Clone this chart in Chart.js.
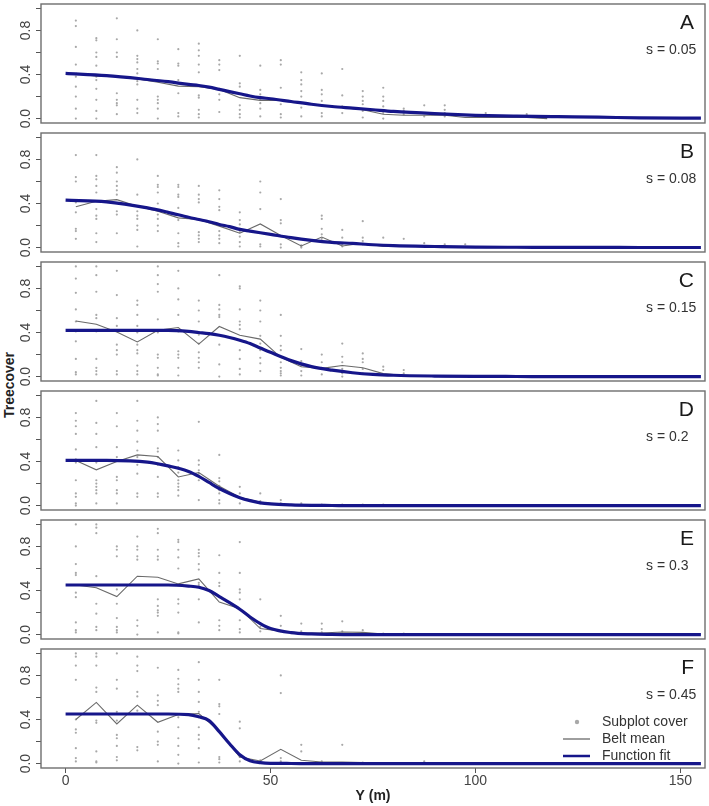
<!DOCTYPE html>
<html>
<head>
<meta charset="utf-8">
<script src="https://cdn.jsdelivr.net/npm/chart.js@4.4.1/dist/chart.umd.min.js"></script>
<style>
  body{margin:0;background:#fff;width:709px;height:806px;position:relative;overflow:hidden;font-family:"Liberation Sans",Arial,sans-serif}
  canvas{position:absolute;left:0}
  #ylab{position:absolute;left:9px;top:385px;transform:translate(-50%,-50%) rotate(-90deg);font-weight:bold;font-size:14px;color:#222;white-space:nowrap}
</style>
</head>
<body>
<div id="ylab">Treecover</div>
<script>
// belt centres (m)
const colX = [2.5,7.5,12.5,17.5,22.5,27.5,32.5,37.5,42.5,47.5,52.5,57.5,62.5,67.5,72.5,77.5,82.5,87.5,92.5,97.5,102.5,107.5,112.5,117.5];
const fitX = [0,10,20,25,30,32.5,35,37.5,40,42.5,45,47.5,50,55,60,65,70,75,80,90,100,110,120,130,140,155];

const xTicks = [0,50,100,150];
const yTicks = [0,0.2,0.4,0.6,0.8,1.0];
const yLabelValues = [0,0.4,0.8];
const yLabelText = ['0.0','0.4','0.8'];

const panelLetters = ['A','B','C','D','E','F'];
const sLabels = ['s = 0.05','s = 0.08','s = 0.15','s = 0.2','s = 0.3','s = 0.45'];
const legendLabels = ['Subplot cover','Belt mean','Function fit'];

// subplot cover, one list per belt
const coverA = [
  [0.89,0.84,0.65,0.49,0.38,0.29,0.20,0.09,0.00],
  [0.73,0.71,0.60,0.56,0.48,0.38,0.35,0.27,0.17,0.07,0.00],
  [0.91,0.72,0.60,0.56,0.23,0.17,0.14,0.12,0.04],
  [0.80,0.57,0.54,0.51,0.45,0.41,0.34,0.31,0.17,0.09,0.05],
  [0.72,0.52,0.50,0.45,0.20,0.17,0.14,0.09,0.00],
  [0.63,0.50,0.48,0.35,0.32,0.23,0.05,0.02],
  [0.68,0.62,0.57,0.49,0.42,0.21,0.19,0.08,0.04,0.01],
  [0.53,0.49,0.44,0.27,0.22,0.17,0.06],
  [0.57,0.32,0.29,0.12,0.08,0.04,0.01],
  [0.48,0.26,0.22,0.17,0.14,0.09,0.02],
  [0.53,0.49,0.28,0.13,0.04,0.01],
  [0.42,0.35,0.31,0.25,0.20,0.14,0.10,0.02],
  [0.41,0.26,0.22,0.16,0.05,0.02],
  [0.45,0.21,0.11,0.05],
  [0.25,0.20,0.16,0.13,0.07,0.01],
  [0.28,0.20,0.16,0.11,0.05,0.00],
  [0.09,0.07,0.04],
  [0.12,0.02],
  [0.12,0.08,0.05,0.02],
  [],
  [0.05],
  [],
  [0.04]
];
const coverB = [
  [0.84,0.64,0.60,0.41,0.32,0.17,0.15,0.08],
  [0.84,0.65,0.62,0.56,0.50,0.35,0.29,0.26,0.13,0.05],
  [0.73,0.68,0.60,0.56,0.52,0.48,0.33,0.30,0.13],
  [0.80,0.48,0.33,0.29,0.26,0.20,0.16,0.01],
  [0.65,0.57,0.55,0.50,0.40,0.30,0.26,0.20,0.15],
  [0.57,0.55,0.48,0.46,0.36,0.25,0.13,0.04,0.01],
  [0.56,0.48,0.44,0.41,0.14,0.11,0.08,0.05],
  [0.52,0.44,0.37,0.34,0.21,0.15,0.11,0.08,0.04],
  [0.32,0.25,0.21,0.17,0.14,0.10,0.05,0.01],
  [0.60,0.50,0.35,0.03,0.01],
  [0.44,0.25,0.22,0.03,0.00],
  [0.02,0.01,0.00],
  [0.29,0.26,0.17,0.12,0.08],
  [0.16,0.09,0.03,0.01],
  [0.24,0.09,0.06,0.03],
  [0.09,0.02],
  [0.08],
  [0.04],
  [0.03],
  [0.03]
];
const coverC = [
  [1.00,0.89,0.76,0.61,0.50,0.41,0.32,0.16,0.04,0.02],
  [1.00,0.92,0.77,0.56,0.53,0.41,0.16,0.08,0.05,0.02],
  [0.96,0.74,0.53,0.46,0.29,0.24,0.20,0.05,0.02],
  [0.69,0.65,0.56,0.46,0.40,0.29,0.24,0.21,0.10,0.05,0.02],
  [1.00,0.92,0.84,0.77,0.52,0.40,0.20,0.17,0.08,0.02,0.01],
  [0.96,0.80,0.70,0.56,0.41,0.23,0.20,0.17,0.08,0.01],
  [0.69,0.60,0.50,0.38,0.30,0.22,0.17,0.13,0.08],
  [0.92,0.65,0.61,0.56,0.54,0.29,0.11,0.00],
  [0.82,0.80,0.61,0.50,0.47,0.43,0.33,0.24,0.16,0.07,0.02],
  [0.69,0.60,0.50,0.37,0.30,0.24,0.17,0.12,0.05],
  [0.56,0.37,0.28,0.24,0.13,0.08,0.05,0.03,0.01],
  [0.25,0.14,0.10,0.05,0.01],
  [0.20,0.13,0.08,0.02],
  [0.30,0.18,0.13,0.07,0.03,0.00],
  [0.21,0.16,0.13,0.07,0.03],
  [0.09,0.06],
  [0.06,0.03]
];
const coverD = [
  [0.84,0.77,0.72,0.65,0.51,0.42,0.39,0.23,0.11,0.08,0.02,0.00],
  [0.95,0.75,0.65,0.53,0.39,0.23,0.20,0.17,0.14,0.11,0.02],
  [0.84,0.72,0.53,0.44,0.26,0.23,0.14,0.11,0.02],
  [0.95,0.77,0.68,0.58,0.50,0.44,0.37,0.29,0.11,0.08],
  [0.80,0.74,0.68,0.52,0.49,0.44,0.37,0.26,0.11,0.08],
  [0.50,0.41,0.35,0.30,0.23,0.20,0.17,0.14,0.09],
  [0.76,0.41,0.37,0.32,0.29,0.23,0.05],
  [0.46,0.25,0.22,0.18,0.14,0.11,0.05,0.02],
  [0.17,0.11,0.07,0.02],
  [0.11,0.04,0.02],
  [0.05,0.02],
  [0.02],
  [0.01],
  [0.01],
  [0.01],
  [0.01]
];
const coverE = [
  [1.00,0.80,0.64,0.56,0.54,0.38,0.34,0.11,0.04,0.02],
  [1.00,0.97,0.92,0.53,0.28,0.19,0.07,0.04],
  [0.80,0.77,0.71,0.41,0.28,0.15,0.07,0.04,0.02],
  [0.89,0.80,0.77,0.71,0.68,0.13,0.08,0.00],
  [0.96,0.92,0.77,0.71,0.68,0.32,0.26,0.22,0.20,0.17,0.02],
  [0.86,0.84,0.77,0.70,0.60,0.32,0.28,0.20,0.02,0.01],
  [0.77,0.74,0.71,0.64,0.59,0.47,0.45,0.32,0.11],
  [0.72,0.56,0.47,0.44,0.13,0.08,0.04],
  [0.84,0.56,0.41,0.38,0.32,0.13,0.05,0.02],
  [0.32,0.10,0.07,0.03],
  [0.17,0.08,0.03],
  [0.10,0.03],
  [0.10,0.05,0.02],
  [0.12,0.03],
  [0.04],
  [0.01],
  [0.01]
];
const coverF = [
  [1.00,0.97,0.89,0.76,0.40,0.31,0.28,0.14,0.05,0.02],
  [1.00,0.97,0.89,0.69,0.65,0.39,0.37,0.11,0.02,0.01],
  [1.00,0.76,0.68,0.47,0.39,0.26,0.23,0.16,0.06,0.03],
  [0.97,0.89,0.84,0.65,0.61,0.48,0.15,0.12],
  [0.87,0.62,0.57,0.53,0.29,0.20,0.17,0.02],
  [0.85,0.77,0.72,0.68,0.65,0.42,0.33,0.23,0.16,0.08,0.00],
  [0.92,0.76,0.65,0.56,0.47,0.42,0.33,0.26,0.22,0.14,0.01],
  [0.76,0.54,0.52,0.45,0.06,0.04,0.01],
  [0.38,0.32,0.06,0.02],
  [0.03],
  [0.80,0.64,0.05,0.02],
  [0.17,0.11],
  [0.02],
  [0.17],
  [0.01],
  [],
  [],
  [0.02]
];

// belt means
const beltA = [0.41,0.385,0.38,0.36,0.33,0.295,0.29,0.265,0.19,0.165,0.165,0.14,0.12,0.10,0.08,0.04,0.03,0.03,0.03,0.01,0.01,0.01,0.01,0.0];
const beltB = [0.37,0.42,0.435,0.375,0.33,0.27,0.255,0.195,0.13,0.215,0.11,0.015,0.096,0.015,0.04,0.01,0.01,0.01,0.005,0.005,0,0,0,0];
const beltC = [0.505,0.475,0.405,0.315,0.42,0.445,0.295,0.455,0.375,0.34,0.175,0.09,0.075,0.10,0.08,0.027,0.01,0.005,0,0,0,0,0,0];
const beltD = [0.41,0.325,0.40,0.46,0.445,0.26,0.30,0.175,0.075,0.03,0.01,0.005,0,0,0,0,0,0,0,0,0,0,0,0];
const beltE = [0.45,0.425,0.345,0.53,0.52,0.46,0.505,0.295,0.235,0.055,0.03,0.015,0.015,0.024,0.02,0.005,0,0,0,0,0,0,0,0];
const beltF = [0.40,0.555,0.36,0.53,0.375,0.445,0.455,0.295,0.06,0.024,0.13,0.03,0.015,0.015,0.01,0.005,0,0,0,0,0,0,0,0];

// fitted curves, read at fitX
const fitA = [0.41,0.39,0.355,0.335,0.31,0.30,0.285,0.265,0.245,0.225,0.205,0.19,0.18,0.155,0.13,0.11,0.095,0.08,0.065,0.045,0.03,0.022,0.017,0.013,0.006,0.004];
const fitB = [0.43,0.415,0.36,0.32,0.275,0.255,0.235,0.21,0.19,0.165,0.15,0.135,0.12,0.09,0.066,0.048,0.038,0.026,0.018,0.01,0.004,0.003,0.002,0.002,0.001,0.001];
const fitC = [0.42,0.42,0.42,0.42,0.41,0.40,0.39,0.375,0.355,0.33,0.30,0.26,0.22,0.145,0.09,0.058,0.035,0.02,0.012,0.005,0.002,0.001,0,0,0,0];
const fitD = [0.41,0.41,0.395,0.36,0.31,0.265,0.21,0.155,0.11,0.072,0.045,0.025,0.015,0.006,0.002,0.001,0,0,0,0,0,0,0,0,0,0];
const fitE = [0.45,0.45,0.45,0.45,0.44,0.43,0.40,0.345,0.29,0.23,0.16,0.10,0.055,0.018,0.006,0.002,0,0,0,0,0,0,0,0,0,0];
const fitF = [0.45,0.45,0.45,0.45,0.445,0.425,0.39,0.29,0.18,0.08,0.025,0.008,0.002,0.001,0,0,0,0,0,0,0,0,0,0,0,0];

const covers = [coverA,coverB,coverC,coverD,coverE,coverF];
const belts = [beltA,beltB,beltC,beltD,beltE,beltF];
const fits = [fitA,fitB,fitC,fitD,fitE,fitF];

const FONT = '"Liberation Sans", Arial, sans-serif';
const FIT_COLOR = '#16168a';
const BELT_COLOR = '#6a6a6a';
const DOT_COLOR = '#a8a8a8';

const panelDecor = {
  id: 'panelDecor',
  afterDraw(chart){
    const {ctx, chartArea:a} = chart;
    const i = chart.options.plugins.panelDecor.index;
    ctx.save();
    // box
    ctx.strokeStyle = '#6e6e6e';
    ctx.lineWidth = 1.4;
    ctx.strokeRect(a.left, a.top, a.right - a.left, a.bottom - a.top);
    // y labels, rotated like R
    const ys = chart.scales.y;
    ctx.fillStyle = '#444';
    ctx.font = '14px ' + FONT;
    ctx.textAlign = 'center';
    ctx.textBaseline = 'middle';
    yLabelValues.forEach((v, k) => {
      ctx.save();
      ctx.translate(26, ys.getPixelForValue(v));
      ctx.rotate(-Math.PI/2);
      ctx.fillText(yLabelText[k], 0, 0);
      ctx.restore();
    });
    // panel letter and s value
    ctx.fillStyle = '#1a1a1a';
    ctx.textBaseline = 'alphabetic';
    ctx.textAlign = 'right';
    ctx.font = '21px ' + FONT;
    ctx.fillText(panelLetters[i], 694, a.top + 25);
    ctx.textAlign = 'left';
    ctx.font = '14px ' + FONT;
    ctx.fillStyle = '#333';
    ctx.fillText(sLabels[i], 646, a.top + 50);
    // legend in last panel
    if (i === 5) {
      const rows = [a.top + 73, a.top + 90, a.top + 107];
      ctx.textBaseline = 'middle';
      ctx.fillStyle = '#333';
      legendLabels.forEach((t, k) => ctx.fillText(t, 602, rows[k]));
      ctx.fillStyle = DOT_COLOR;
      ctx.beginPath(); ctx.arc(577, rows[0], 2.2, 0, Math.PI*2); ctx.fill();
      ctx.strokeStyle = BELT_COLOR; ctx.lineWidth = 1.3;
      ctx.beginPath(); ctx.moveTo(563, rows[1]); ctx.lineTo(590, rows[1]); ctx.stroke();
      ctx.strokeStyle = FIT_COLOR; ctx.lineWidth = 2.5;
      ctx.beginPath(); ctx.moveTo(563, rows[2]); ctx.lineTo(590, rows[2]); ctx.stroke();
    }
    ctx.restore();
  }
};

function makePanel(i){
  const last = i === 5;
  const plotTop = 3 + 129 * i;
  const cTop = plotTop - 3;
  const cHeight = last ? 806 - cTop : 133;
  const canvas = document.createElement('canvas');
  canvas.width = 709; canvas.height = cHeight;
  canvas.style.top = cTop + 'px';
  canvas.style.width = '709px'; canvas.style.height = cHeight + 'px';
  document.body.appendChild(canvas);

  const dots = covers[i].flatMap((col, k) => col.map(v => ({x: colX[k], y: v})));
  const belt = belts[i].map((v, k) => ({x: colX[k], y: v}));
  const fit = fits[i].map((v, k) => ({x: fitX[k], y: v}));

  new Chart(canvas.getContext('2d'), {
    type: 'scatter',
    data: {
      datasets: [
        {label: 'Function fit', data: fit, showLine: true, borderColor: FIT_COLOR, borderWidth: 3.2,
         pointRadius: 0, cubicInterpolationMode: 'monotone', order: 0},
        {label: 'Belt mean', data: belt, showLine: true, borderColor: BELT_COLOR, borderWidth: 1.1,
         pointRadius: 0, tension: 0, order: 1},
        {label: 'Subplot cover', data: dots, backgroundColor: DOT_COLOR, borderWidth: 0,
         pointRadius: 1.1, order: 2}
      ]
    },
    options: {
      responsive: false,
      animation: false,
      devicePixelRatio: 1,
      layout: {padding: {top: 3, right: 2, bottom: last ? 0 : 10, left: 0}},
      plugins: {legend: {display: false}, tooltip: {enabled: false}, panelDecor: {index: i}},
      scales: {
        x: {
          type: 'linear', min: -6, max: 156, display: last,
          afterBuildTicks: s => { s.ticks = xTicks.map(v => ({value: v})); },
          afterFit: s => { s.height = last ? 38 : 0; },
          grid: {drawOnChartArea: false, drawTicks: true, tickLength: 5, color: '#555'},
          border: {display: false},
          ticks: {font: {family: FONT, size: 14}, color: '#444', padding: 0, maxRotation: 0, autoSkip: false},
          title: {display: true, text: 'Y (m)', color: '#222', font: {family: FONT, size: 14, weight: 'bold'}, padding: {top: 0, bottom: 1}}
        },
        y: {
          type: 'linear', min: -0.04, max: 1.04,
          afterBuildTicks: s => { s.ticks = yTicks.map(v => ({value: v})); },
          afterFit: s => { s.width = 41; },
          grid: {drawOnChartArea: false, drawTicks: true, tickLength: 5, color: '#555'},
          border: {display: false},
          ticks: {display: false}
        }
      }
    },
    plugins: [panelDecor]
  });
}

for (let i = 0; i < 6; i++) makePanel(i);
</script>
</body>
</html>
